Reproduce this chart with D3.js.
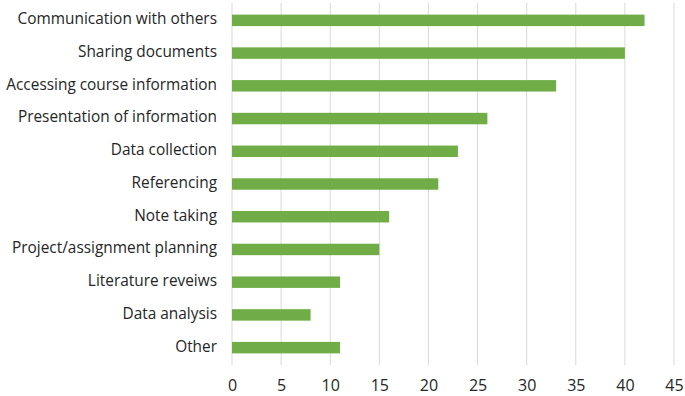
<!DOCTYPE html>
<html>
<head>
<meta charset="utf-8">
<script src="https://cdn.jsdelivr.net/npm/d3@7"></script>
<style>
  html, body { margin: 0; padding: 0; background: #ffffff; }
  svg { display: block; }
</style>
</head>
<body>
<div id="chart"></div>
<script>
(function () {
  'use strict';

  var CATEGORIES = [
    'Communication with others',
    'Sharing documents',
    'Accessing course information',
    'Presentation of information',
    'Data collection',
    'Referencing',
    'Note taking',
    'Project/assignment planning',
    'Literature reveiws',
    'Data analysis',
    'Other'
  ];
  var VALUES = [42, 40, 33, 26, 23, 21, 16, 15, 11, 8, 11];
  var X_TICKS = [0, 5, 10, 15, 20, 25, 30, 35, 40, 45];

  var WIDTH = 685, HEIGHT = 396;
  var BAR_COLOR = '#70ad47';
  var GRID_COLOR = '#d9d9d9';
  var TEXT_COLOR = '#262626';
  var FONT = '"Open Sans", "DejaVu Sans", sans-serif';

  var margin = { top: 4, right: 11, bottom: 32, left: 232 };

  var svg = d3.select('#chart').append('svg')
    .attr('width', WIDTH)
    .attr('height', HEIGHT);

  var x = d3.scaleLinear()
    .domain([0, 45])
    .range([margin.left, WIDTH - margin.right]);

  var y = d3.scaleBand()
    .domain(CATEGORIES)
    .range([margin.top, HEIGHT - margin.bottom])
    .paddingInner(0.65)
    .paddingOuter(0.325);

  // vertical gridlines
  svg.append('g')
    .selectAll('line')
    .data(X_TICKS)
    .join('line')
    .attr('x1', function (d) { return x(d); })
    .attr('x2', function (d) { return x(d); })
    .attr('y1', margin.top - 1)
    .attr('y2', HEIGHT - margin.bottom + 1)
    .attr('stroke', GRID_COLOR)
    .attr('stroke-width', 1);

  // bars
  svg.append('g')
    .selectAll('rect')
    .data(VALUES)
    .join('rect')
    .attr('x', x(0))
    .attr('y', function (d, i) { return y(CATEGORIES[i]); })
    .attr('width', function (d) { return x(d) - x(0); })
    .attr('height', y.bandwidth())
    .attr('fill', BAR_COLOR);

  // category labels
  var yAxis = svg.append('g')
    .attr('transform', 'translate(' + (margin.left - 15) + ',-1)')
    .call(d3.axisLeft(y).tickSize(0).tickPadding(0));
  yAxis.select('.domain').remove();
  yAxis.selectAll('text')
    .attr('fill', TEXT_COLOR)
    .attr('font-family', FONT)
    .attr('font-size', '15.4px');

  // x tick labels
  var xAxis = svg.append('g')
    .attr('transform', 'translate(0,' + (HEIGHT - margin.bottom) + ')')
    .call(d3.axisBottom(x).tickValues(X_TICKS).tickSize(0).tickPadding(16));
  xAxis.select('.domain').remove();
  xAxis.selectAll('text')
    .attr('fill', TEXT_COLOR)
    .attr('font-family', FONT)
    .attr('font-size', '16px');
})();
</script>
</body>
</html>
